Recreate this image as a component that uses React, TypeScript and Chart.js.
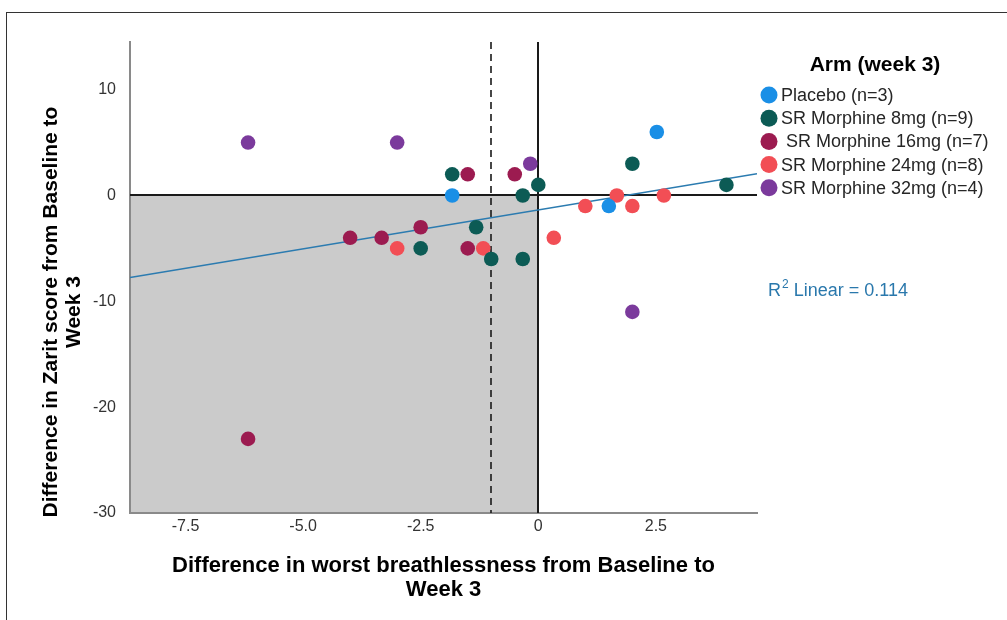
import React, { useEffect, useRef } from "react";
import { Chart, registerables } from "chart.js";

Chart.register(...registerables);

// ---- data ----
const armLabels = [
  "Placebo (n=3)",
  "SR Morphine 8mg (n=9)",
  " SR Morphine 16mg (n=7)",
  "SR Morphine 24mg (n=8)",
  "SR Morphine 32mg (n=4)",
];
const armColors = ["#1a8fe6", "#0c5b55", "#9c1b50", "#f24e55", "#7b3a9c"];

const placeboX = [-1.83, 1.5, 2.52];
const placeboY = [0, -1, 6];
const mg8X = [-1.83, -1.32, -2.5, -1.0, -0.33, -0.33, 0, 2.0, 4.0];
const mg8Y = [2, -3, -5, -6, -6, 0, 1, 3, 1];
const mg16X = [-1.5, -0.5, -2.5, -1.5, -4.0, -3.33, -6.17];
const mg16Y = [2, 2, -3, -5, -4, -4, -23];
const mg24X = [-3.0, -1.17, 0.33, 1.0, 1.67, 2.0, 2.67];
const mg24Y = [-5, -5, -4, -1, 0, -1, 0];
const mg32X = [-6.17, -3.0, -0.17, 2.0];
const mg32Y = [5, 5, 3, -11];

const fitX = [-8.68, 4.65];
const fitY = [-7.75, 2.05];
const rSquaredText = "0.114";

const xTicks = [-7.5, -5, -2.5, 0, 2.5];
const xTickLabels = ["-7.5", "-5.0", "-2.5", "0", "2.5"];
const yTicks = [-30, -20, -10, 0, 10];
const yTickLabels = ["-30", "-20", "-10", "0", "10"];
const xMin = -8.68;
const xMax = 4.65;
const yMin = -30;
const yMax = 14.5;
const dashedX = -1;

const xTitle = ["Difference in worst breathlessness from Baseline to", "Week 3"];
const yTitle = ["Difference in Zarit score from Baseline to", "Week 3"];
const legendTitle = "Arm (week 3)";

const armXs = [placeboX, mg8X, mg16X, mg24X, mg32X];
const armYs = [placeboY, mg8Y, mg16Y, mg24Y, mg32Y];

const FONT = "'Liberation Sans', Arial, Helvetica, sans-serif";
const fitColor = "#2b7bb0";

const decorPlugin = {
  id: "decor",
  beforeDraw(chart: any) {
    const { ctx } = chart;
    const xs = chart.scales.x;
    const ys = chart.scales.y;
    const l = xs.getPixelForValue(xMin);
    const r = xs.getPixelForValue(0);
    const t = ys.getPixelForValue(0);
    const b = ys.getPixelForValue(yMin);
    ctx.save();
    ctx.fillStyle = "#cbcbcb";
    ctx.fillRect(l, t, r - l, b - t);
    ctx.restore();
  },
  beforeDatasetsDraw(chart: any) {
    const { ctx } = chart;
    const xs = chart.scales.x;
    const ys = chart.scales.y;
    ctx.save();
    ctx.strokeStyle = "#1a1a1a";
    ctx.lineWidth = 2;
    const y0 = Math.round(ys.getPixelForValue(0));
    ctx.beginPath();
    ctx.moveTo(xs.getPixelForValue(xMin), y0);
    ctx.lineTo(xs.getPixelForValue(xMax), y0);
    ctx.stroke();
    const x0 = Math.round(xs.getPixelForValue(0));
    ctx.beginPath();
    ctx.moveTo(x0, ys.getPixelForValue(yMin));
    ctx.lineTo(x0, ys.getPixelForValue(yMax));
    ctx.stroke();
    const xd = Math.round(xs.getPixelForValue(dashedX));
    ctx.setLineDash([7, 5]);
    ctx.lineWidth = 1.6;
    ctx.beginPath();
    ctx.moveTo(xd, ys.getPixelForValue(yMax));
    ctx.lineTo(xd, ys.getPixelForValue(yMin));
    ctx.stroke();
    ctx.restore();
  },
  afterDraw(chart: any) {
    const { ctx } = chart;
    ctx.save();
    ctx.fillStyle = "#000";
    ctx.font = `bold 21px ${FONT}`;
    ctx.textAlign = "center";
    ctx.textBaseline = "middle";
    yTitle.forEach((line, i) => {
      ctx.save();
      ctx.translate(51 + i * 23, 312);
      ctx.rotate(-Math.PI / 2);
      ctx.fillText(line, 0, 0);
      ctx.restore();
    });
    ctx.font = `bold 21px ${FONT}`;
    ctx.fillStyle = "#000";
    ctx.fillText(legendTitle, 875, 65);
    ctx.textAlign = "left";
    ctx.font = `18px ${FONT}`;
    const sets = chart.data.datasets.slice(0, armLabels.length);
    sets.forEach((ds: any, i: number) => {
      const cy = 95 + i * 23.2;
      ctx.beginPath();
      ctx.fillStyle = ds.backgroundColor;
      ctx.arc(769, cy, 8.5, 0, Math.PI * 2);
      ctx.fill();
      ctx.fillStyle = "#262626";
      ctx.fillText(ds.label, 781, cy + 1);
    });
    ctx.fillStyle = "#2a78ac";
    ctx.font = `18px ${FONT}`;
    let x = 768;
    const y = 291;
    ctx.fillText("R", x, y);
    x += ctx.measureText("R").width;
    ctx.font = `12px ${FONT}`;
    ctx.fillText("2", x + 1, y - 6);
    x += ctx.measureText("2").width + 1;
    ctx.font = `18px ${FONT}`;
    ctx.fillText(" Linear = " + rSquaredText, x, y);
    ctx.restore();
  },
};

export default function App() {
  const ref = useRef<HTMLCanvasElement | null>(null);

  useEffect(() => {
    if (!ref.current) return;
    const datasets: any[] = armLabels.map((label, i) => ({
      type: "scatter",
      label,
      data: armXs[i].map((x, j) => ({ x, y: armYs[i][j] })),
      backgroundColor: armColors[i],
      borderWidth: 0,
      pointRadius: 7.3,
      pointHoverRadius: 7.3,
    }));
    datasets.push({
      type: "line",
      label: "Linear fit",
      data: fitX.map((x, j) => ({ x, y: fitY[j] })),
      borderColor: fitColor,
      borderWidth: 1.6,
      pointRadius: 0,
      showLine: true,
      fill: false,
      tension: 0,
    });

    const chart = new Chart(ref.current, {
      type: "scatter",
      data: { datasets },
      plugins: [decorPlugin],
      options: {
        animation: false,
        responsive: false,
        events: [],
        layout: { padding: { left: 0, top: 42, right: 250, bottom: 0 } },
        plugins: {
          legend: { display: false },
          tooltip: { enabled: false },
          title: { display: false },
        },
        scales: {
          x: {
            type: "linear",
            min: xMin,
            max: xMax,
            afterFit: (s: any) => {
              s.height = 107;
            },
            afterBuildTicks: (s: any) => {
              s.ticks = xTicks.map((v) => ({ value: v }));
            },
            grid: { display: false, drawTicks: false },
            border: { display: true, color: "#8a8a8a", width: 2 },
            ticks: {
              padding: 4,
              color: "#333",
              font: { family: FONT, size: 16 },
              callback: (v: any) => {
                const i = xTicks.indexOf(Number(v));
                return i >= 0 ? xTickLabels[i] : "";
              },
            },
            title: {
              display: true,
              text: xTitle,
              color: "#000",
              font: { family: FONT, size: 22, weight: "bold", lineHeight: 1.05 },
              padding: { top: 0, bottom: 19 },
            },
          },
          y: {
            type: "linear",
            min: yMin,
            max: yMax,
            afterFit: (s: any) => {
              s.width = 130;
            },
            afterBuildTicks: (s: any) => {
              s.ticks = yTicks.map((v) => ({ value: v }));
            },
            grid: { display: false, drawTicks: false },
            border: { display: true, color: "#8a8a8a", width: 2 },
            ticks: {
              padding: 14,
              color: "#333",
              font: { family: FONT, size: 16 },
              callback: (v: any) => {
                const i = yTicks.indexOf(Number(v));
                return i >= 0 ? yTickLabels[i] : "";
              },
            },
          },
        },
      } as any,
    });
    return () => chart.destroy();
  }, []);

  return (
    <div style={{ position: "absolute", left: 0, top: 0, width: 1007, height: 620, background: "#fff" }}>
      <div
        style={{
          position: "absolute",
          left: 6,
          top: 12,
          right: 0,
          bottom: 0,
          borderTop: "1px solid #333",
          borderLeft: "1px solid #333",
        }}
      />
      <canvas
        ref={ref}
        width={1007}
        height={620}
        style={{ position: "absolute", left: 0, top: 0, width: 1007, height: 620 }}
      />
    </div>
  );
}
